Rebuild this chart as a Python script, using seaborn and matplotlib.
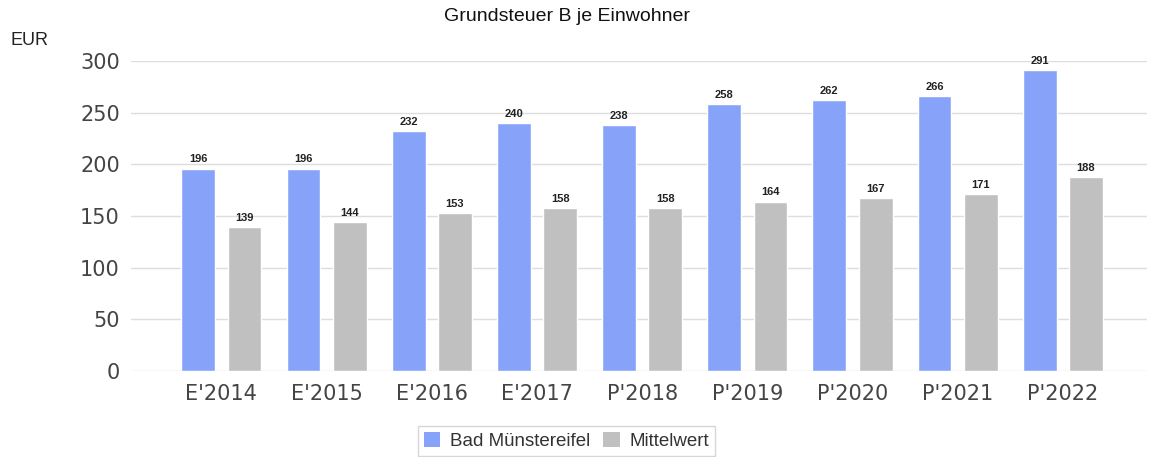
import matplotlib
matplotlib.use("Agg")
import matplotlib.pyplot as plt
import seaborn as sns
import pandas as pd
from matplotlib.patches import Patch

categories = ["E'2014", "E'2015", "E'2016", "E'2017", "P'2018", "P'2019", "P'2020", "P'2021", "P'2022"]
bad_muenstereifel = [196, 196, 232, 240, 238, 258, 262, 266, 291]
mittelwert = [139, 144, 153, 158, 158, 164, 167, 171, 188]
series_names = ["Bad Münstereifel", "Mittelwert"]
colors = ["#87A3F9", "#C0C0C0"]

df = pd.DataFrame({
    "cat": categories * 2,
    "value": bad_muenstereifel + mittelwert,
    "series": [series_names[0]] * len(categories) + [series_names[1]] * len(categories),
})

sns.set_theme(style="white")
plt.rcParams['font.family'] = ['Liberation Sans', 'DejaVu Sans']

fig = plt.figure(figsize=(11.51, 4.57), dpi=100)
ax = fig.add_axes([0.1138, 0.188, 0.8827, 0.6785])

sns.barplot(data=df, x="cat", y="value", hue="series", palette=colors,
            width=0.88, gap=0.27, ax=ax, legend=False, saturation=1, zorder=3)

for cont in ax.containers:
    ax.bar_label(cont, fmt="%d", padding=3, fontsize=8, color="#222222", fontweight="bold")

ax.set_ylim(0, 300)
ax.set_xlim(-0.86, 8.8)
ax.set_yticks([0, 50, 100, 150, 200, 250, 300])
ax.yaxis.grid(True, color="#DDDDDD", linewidth=1, zorder=0)
ax.set_axisbelow(True)
for s in ax.spines.values():
    s.set_visible(False)
ax.tick_params(axis="both", length=0, colors="#444444")
ax.tick_params(axis="y", pad=8)
ax.tick_params(axis="x", pad=9)
for lab in ax.get_xticklabels() + ax.get_yticklabels():
    lab.set_fontfamily(['DejaVu Sans'])
    lab.set_fontsize(15)
ax.set_xlabel("")
ax.set_ylabel("")

fig.text(0.4926, 0.963, "Grundsteuer B je Einwohner", ha="center", va="center",
         fontsize=14, color="#111111")
fig.text(0.009, 0.912, "EUR", ha="left", va="center", fontsize=13, color="#222222")

handles = [Patch(facecolor=c, edgecolor="none") for c in colors]
leg = fig.legend(handles, series_names, loc="center", bbox_to_anchor=(0.492, 0.035),
                 ncol=2, frameon=True, fontsize=13.5, handlelength=0.9, handleheight=0.9,
                 columnspacing=0.7, handletextpad=0.5, borderpad=0.3,
                 fancybox=False, labelcolor="#333333")
leg.get_frame().set_edgecolor("#CCCCCC")
leg.get_frame().set_linewidth(1)

fig.savefig("out.png", dpi=100)
